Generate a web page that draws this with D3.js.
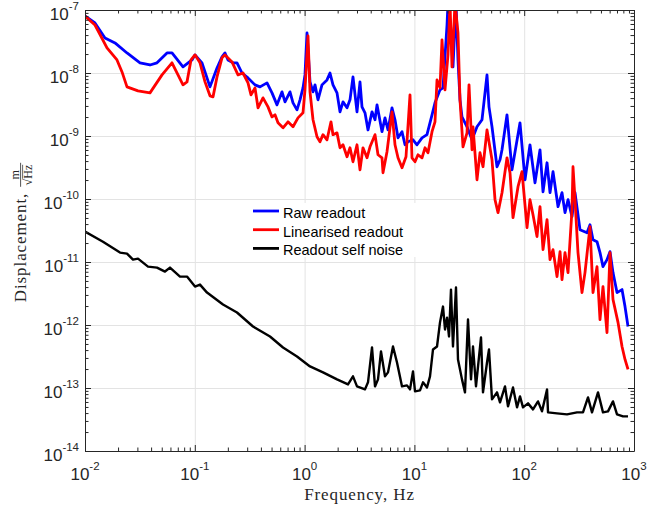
<!DOCTYPE html>
<html>
<head>
<meta charset="utf-8">
<title>Displacement spectra</title>
<script src="https://d3js.org/d3.v7.min.js"></script>
<style>
    body { margin: 0; background: #fff; }
</style>
</head>
<body>
<script>
    // values: frequency in Hz, displacement in m/sqrt(Hz)
    var rawFreq = [0.01, 0.01233, 0.01521, 0.01876, 0.02413, 0.03169, 0.03908, 0.04526, 0.05582, 0.06199,
        0.07807, 0.0943, 0.1004, 0.1163, 0.1375, 0.1593, 0.1769, 0.1884, 0.2006, 0.2228,
        0.2423, 0.2691, 0.3051, 0.3534, 0.3925, 0.4546, 0.5048, 0.5606, 0.6228, 0.6631,
        0.7362, 0.7842, 0.8527, 0.9081, 0.967, 1.008, 1.052, 1.12, 1.193, 1.244,
        1.324, 1.44, 1.6, 1.703, 1.814, 1.973, 2.101, 2.237, 2.434, 2.591,
        2.759, 3.001, 3.195, 3.332, 3.549, 3.78, 4.111, 4.378, 4.565, 5.07,
        5.398, 5.749, 6.252, 6.658, 7.09, 7.713, 8.211, 8.744, 9.71, 10.56,
        11.73, 13.02, 14.47, 15.4, 17.11, 18.22, 19.82, 20.23, 21.54, 22.46,
        23.92, 24.95, 26.02, 27.13, 30.14, 33.47, 37.16, 41.28, 45.84, 47.8,
        50.9, 56.54, 60.21, 62.79, 69.73, 77.42, 91.58, 101.7, 112.9, 125.4,
        139.3, 148.4, 161.4, 171.8, 183.0, 203.3, 221.0, 235.3, 250.6, 272.5,
        290.2, 322.2, 373.3, 397.5, 423.3, 460.3, 490.2, 521.9, 567.7, 604.6,
        643.8, 700.3, 777.7, 828.2, 882.0];
    var rawVal = [8.03e-8, 6.22e-8, 3.6e-8, 3.0e-8, 2.08e-8, 1.45e-8, 1.34e-8, 1.45e-8, 2.08e-8, 2.08e-8,
        1.25e-8, 1.61e-8, 1.94e-8, 1.45e-8, 6.02e-9, 1.2e-8, 1.8e-8, 2.08e-8, 1.61e-8, 1.45e-8,
        1.45e-8, 1.0e-8, 8.36e-9, 6.48e-9, 6.02e-9, 6.97e-9, 4.84e-9, 3.12e-9, 5.02e-9, 3.48e-9,
        5.02e-9, 3.36e-9, 2.6e-9, 3.75e-9, 5.81e-9, 9.33e-9, 4.32e-8, 7.23e-9, 5.02e-9, 6.48e-9,
        3.75e-9, 6.48e-9, 7.77e-9, 1.0e-8, 6.48e-9, 4.84e-9, 2.42e-9, 3.48e-9, 2.8e-9, 3.75e-9,
        8.67e-9, 2.42e-9, 7.23e-9, 2.9e-9, 2.33e-9, 1.25e-9, 2.42e-9, 1.81e-9, 3.12e-9, 1.17e-9,
        1.94e-9, 1.25e-9, 2.8e-9, 1.81e-9, 9.36e-10, 1.17e-9, 7.25e-10, 8.09e-10, 8.71e-10, 7.25e-10,
        9.36e-10, 1.05e-9, 2.17e-9, 3.36e-9, 5.4e-9, 5.81e-9, 5.78e-8, 1.3e-7, 4.82e-8, 1.25e-8,
        1.3e-7, 1.61e-8, 3.75e-9, 2.01e-9, 1.4e-9, 8.71e-10, 1.4e-9, 1.81e-9, 9.33e-9, 2.9e-9,
        1.4e-9, 3.25e-10, 4.2e-10, 6.04e-10, 2.17e-9, 2.91e-10, 1.62e-9, 2.02e-10, 7.25e-10, 1.81e-10,
        6.04e-10, 1.3e-10, 3.76e-10, 1.26e-10, 2.71e-10, 7.55e-11, 1.26e-10, 6.07e-11, 9.75e-11, 5.24e-11,
        1.26e-10, 3.26e-11, 2.92e-11, 3.91e-11, 2.26e-11, 2.1e-11, 1.41e-11, 8.45e-12, 1.09e-11, 1.46e-11,
        6.79e-12, 3.27e-12, 3.65e-12, 1.96e-12, 9.47e-13];

    var linFreq = [0.01, 0.01233, 0.01586, 0.01956, 0.02173, 0.02413, 0.03039, 0.03908, 0.05027, 0.06199,
        0.07031, 0.07807, 0.08492, 0.09234, 0.1004, 0.1115, 0.1239, 0.1375, 0.1465, 0.1593,
        0.1769, 0.1884, 0.2182, 0.2474, 0.2748, 0.3051, 0.325, 0.3534, 0.3764, 0.418,
        0.4642, 0.5048, 0.5377, 0.5725, 0.6359, 0.7061, 0.7842, 0.8707, 0.967, 1.008,
        1.074, 1.12, 1.193, 1.297, 1.381, 1.471, 1.6, 1.739, 1.814, 1.973,
        2.101, 2.237, 2.434, 2.591, 2.759, 3.001, 3.195, 3.403, 3.701, 3.942,
        4.378, 4.662, 5.07, 5.176, 5.629, 6.252, 6.658, 7.09, 7.713, 8.385,
        9.119, 9.508, 10.13, 10.78, 11.73, 12.49, 13.3, 14.47, 15.4, 16.07,
        17.11, 17.84, 19.0, 20.23, 21.1, 22.0, 23.43, 24.95, 26.02, 27.71,
        30.14, 31.43, 33.47, 34.18, 37.16, 39.58, 42.15, 45.84, 50.9, 54.22,
        57.74, 62.79, 69.73, 74.25, 79.07, 87.84, 95.5, 106.1, 112.9, 120.3,
        130.8, 139.3, 148.4, 161.4, 171.8, 183.0, 199.0, 212.0, 221.0, 235.3,
        250.6, 272.5, 278.3, 290.2, 309.0, 336.0, 357.8, 397.5, 423.3, 460.3,
        490.2, 521.9, 567.7, 604.6, 643.8, 715.1, 777.7, 828.2, 882.0];
    var linVal = [8.03e-8, 5.78e-8, 2.5e-8, 1.61e-8, 1.04e-8, 6.02e-9, 5.2e-9, 4.84e-9, 9.33e-9, 1.45e-8,
        9.33e-9, 6.48e-9, 7.23e-9, 1.61e-8, 1.94e-8, 1.45e-8, 7.23e-9, 4.34e-9, 4.18e-9, 8.67e-9,
        1.74e-8, 1.94e-8, 1.5e-8, 9.33e-9, 1.0e-8, 6.97e-9, 4.5e-9, 5.81e-9, 2.8e-9, 4.03e-9,
        2.9e-9, 2.01e-9, 2.17e-9, 1.62e-9, 1.35e-9, 1.68e-9, 1.4e-9, 1.94e-9, 2.33e-9, 5.4e-9,
        3.87e-8, 5.02e-9, 1.81e-9, 9.71e-10, 8.09e-10, 1.05e-9, 8.71e-10, 1.68e-9, 1.05e-9, 1.12e-9,
        6.5e-10, 7.25e-10, 4.68e-10, 6.5e-10, 3.9e-10, 7.25e-10, 2.91e-10, 6.5e-10, 4.51e-10, 6.74e-10,
        1.05e-9, 5.04e-10, 4.51e-10, 2.61e-10, 5.62e-10, 2.42e-9, 7.25e-10, 4.51e-10, 3.13e-10, 4.68e-10,
        4.5e-9, 4.51e-10, 3.9e-10, 5.04e-10, 4.51e-10, 6.5e-10, 5.42e-10, 1.17e-9, 1.68e-9, 7.77e-9,
        5.81e-9, 3.35e-8, 5.4e-9, 1.94e-8, 1.3e-7, 1.25e-8, 1.3e-7, 4.32e-8, 3.75e-9, 6.74e-10,
        1.12e-9, 6.48e-9, 6.04e-10, 1.4e-9, 2.02e-10, 5.42e-10, 3.25e-10, 1.25e-9, 4.2e-10, 9.75e-11,
        6.07e-11, 1.26e-10, 4.51e-10, 2.61e-10, 5.05e-11, 1.57e-10, 2.71e-10, 3.51e-11, 9.75e-11, 5.64e-11,
        2.53e-11, 7.55e-11, 1.57e-11, 4.7e-11, 1.09e-11, 1.57e-11, 5.87e-12, 1.46e-11, 5.26e-12, 1.41e-11,
        6.79e-12, 6.77e-11, 3.25e-10, 9.75e-11, 1.41e-11, 3.27e-12, 6.79e-12, 3.64e-11, 3.27e-12, 8.45e-12,
        1.22e-12, 4.07e-12, 7.6e-13, 1.41e-11, 2.54e-12, 1.1e-12, 4.56e-13, 2.84e-13, 1.97e-13];

    var selfFreq = [0.01, 0.01458, 0.02084, 0.02413, 0.02736, 0.03039, 0.03748, 0.04526, 0.05353, 0.05944,
        0.07332, 0.08492, 0.1004, 0.1115, 0.1292, 0.1806, 0.2423, 0.3389, 0.4841, 0.6359,
        0.8527, 1.12, 1.471, 1.973, 2.485, 2.759, 3.001, 3.549, 3.78, 4.111,
        4.378, 4.662, 4.964, 5.398, 5.749, 6.384, 6.943, 7.713, 8.562, 9.119,
        9.71, 10.13, 11.25, 11.98, 13.02, 13.87, 14.77, 16.07, 17.11, 18.22,
        19.0, 19.82, 20.66, 21.54, 22.46, 23.92, 24.95, 27.13, 28.89, 30.77,
        32.78, 34.18, 36.39, 40.42, 42.15, 45.84, 47.8, 50.9, 56.54, 60.21,
        66.87, 71.2, 79.07, 86.02, 91.58, 97.52, 108.3, 120.3, 133.6, 145.3,
        161.4, 164.8, 199.0, 245.4, 302.6, 343.1, 381.2, 414.5, 470.1, 521.9,
        579.7, 643.8, 700.3, 794.1, 882.0];
    var selfVal = [3.03e-11, 2.1e-11, 1.41e-11, 1.36e-11, 1.09e-11, 1.13e-11, 8.45e-12, 8.15e-12, 7.05e-12, 8.15e-12,
        5.87e-12, 5.87e-12, 4.07e-12, 4.38e-12, 3.27e-12, 2.11e-12, 1.58e-12, 9.47e-13, 6.57e-13, 4.4e-13,
        3.17e-13, 2.2e-13, 1.77e-13, 1.37e-13, 1.14e-13, 1.53e-13, 1.06e-13, 9.5e-14, 1.23e-13, 4.4e-13,
        1.06e-13, 1.37e-13, 3.8e-13, 1.53e-13, 1.77e-13, 4.56e-13, 2.54e-13, 1.06e-13, 1.1e-13, 9.5e-14,
        1.83e-13, 8.83e-14, 9.16e-14, 1.23e-13, 1.02e-13, 1.53e-13, 4.09e-13, 4.56e-13, 1.1e-12, 1.96e-12,
        8.48e-13, 1.31e-12, 6.57e-13, 3.65e-12, 4.56e-13, 3.93e-12, 2.84e-13, 1.37e-13, 8.52e-14, 1.22e-12,
        1.37e-13, 4.56e-13, 1.06e-13, 6.34e-13, 8.52e-14, 2.54e-13, 4.09e-13, 6.6e-14, 8.52e-14, 5.91e-14,
        1.06e-13, 5.11e-14, 1.02e-13, 4.93e-14, 7.36e-14, 4.93e-14, 5.7e-14, 4.58e-14, 6.13e-14, 4.26e-14,
        9.5e-14, 4.1e-14, 3.96e-14, 3.82e-14, 4.1e-14, 4.1e-14, 7.1e-14, 4.1e-14, 8.52e-14, 4.1e-14,
        4.26e-14, 6.13e-14, 3.82e-14, 3.55e-14, 3.55e-14];

    var seriesNames = ["Raw readout", "Linearised readout", "Readout self noise"];
    var seriesColors = ["#0000ff", "#ff0000", "#000000"];

    var xTicks = [1e-2, 1e-1, 1e0, 1e1, 1e2, 1e3];
    var xTickExp = ["-2", "-1", "0", "1", "2", "3"];
    var yTicks = [1e-14, 1e-13, 1e-12, 1e-11, 1e-10, 1e-9, 1e-8, 1e-7];
    var yTickExp = ["-14", "-13", "-12", "-11", "-10", "-9", "-8", "-7"];

    var width = 647, height = 509;
    var plotLeft = 85, plotTop = 10, plotRight = 634, plotBottom = 451;
    var axisColor = "#262626";
    var sans = "'Liberation Sans', Arial, Helvetica, sans-serif";
    var serif = "'Liberation Serif', 'Times New Roman', serif";

    var svg = d3.select("body").append("svg")
        .attr("width", width)
        .attr("height", height)
        .style("background-color", "#fff");

    var x = d3.scaleLog().domain([1e-2, 1e3]).range([plotLeft, plotRight]);
    var y = d3.scaleLog().domain([1e-14, 1e-7]).range([plotBottom, plotTop]);

    // 2..9 times each power of ten inside the domain
    function minorTicks(ticks) {
        var out = [];
        for (var i = 0; i < ticks.length - 1; i++) {
            for (var m = 2; m < 10; m++) out.push(m * ticks[i]);
        }
        return out;
    }

    // grid on the decades
    svg.append("g")
        .attr("transform", `translate(0,${plotBottom})`)
        .call(d3.axisBottom(x).tickValues(xTicks).tickSize(-(plotBottom - plotTop)).tickFormat(""))
        .call(g => g.select(".domain").remove())
        .selectAll("line").attr("stroke", "#e3e3e3");
    svg.append("g")
        .attr("transform", `translate(${plotLeft},0)`)
        .call(d3.axisLeft(y).tickValues(yTicks).tickSize(-(plotRight - plotLeft)).tickFormat(""))
        .call(g => g.select(".domain").remove())
        .selectAll("line").attr("stroke", "#e3e3e3");

    // curves
    svg.append("clipPath").attr("id", "plotClip")
        .append("rect")
        .attr("x", plotLeft).attr("y", plotTop)
        .attr("width", plotRight - plotLeft).attr("height", plotBottom - plotTop);

    var line = d3.line()
        .x(d => x(d[0]))
        .y(d => y(d[1]));

    var series = [
        d3.zip(rawFreq, rawVal),
        d3.zip(linFreq, linVal),
        d3.zip(selfFreq, selfVal)
    ];
    var widths = [2.8, 2.8, 2.4];

    svg.append("g")
        .attr("clip-path", "url(#plotClip)")
        .selectAll("path")
        .data(series)
        .join("path")
        .attr("d", line)
        .attr("fill", "none")
        .attr("stroke", (d, i) => seriesColors[i])
        .attr("stroke-width", (d, i) => widths[i])
        .attr("stroke-linejoin", "round");

    // ticks all round the box, pointing inwards
    function drawAxis(axis, transform) {
        var g = svg.append("g").attr("transform", transform).call(axis);
        g.selectAll("path,line").attr("stroke", axisColor);
        return g;
    }
    var boxAxes = [
        [d3.axisBottom(x), `translate(0,${plotBottom})`, xTicks],
        [d3.axisTop(x), `translate(0,${plotTop})`, xTicks],
        [d3.axisLeft(y), `translate(${plotLeft},0)`, yTicks],
        [d3.axisRight(y), `translate(${plotRight},0)`, yTicks]
    ];
    boxAxes.forEach(function (a) {
        drawAxis(a[0].tickValues(minorTicks(a[2])).tickSize(-3.5).tickSizeOuter(0).tickFormat(""), a[1])
            .select(".domain").remove();
        drawAxis(a[0].tickValues(a[2]).tickSize(-6).tickSizeOuter(0).tickFormat(""), a[1]);
    });

    // tick labels as 10 with a raised exponent
    var xLabels = svg.append("g").selectAll("text")
        .data(xTicks)
        .join("text")
        .attr("x", d => x(d))
        .attr("y", plotBottom + 29)
        .attr("text-anchor", "middle")
        .style("font-family", sans)
        .style("font-size", "17px")
        .attr("fill", axisColor);
    xLabels.append("tspan").text("10");
    xLabels.append("tspan").attr("dy", -10).style("font-size", "11.5px").text((d, i) => xTickExp[i]);

    var yLabels = svg.append("g").selectAll("text")
        .data(yTicks)
        .join("text")
        .attr("x", plotLeft - 6)
        .attr("y", d => y(d) + 9.5)
        .attr("text-anchor", "end")
        .style("font-family", sans)
        .style("font-size", "17px")
        .attr("fill", axisColor);
    yLabels.append("tspan").text("10");
    yLabels.append("tspan").attr("dy", -10).style("font-size", "11.5px").text((d, i) => yTickExp[i]);

    // axis titles
    svg.append("text")
        .attr("x", (plotLeft + plotRight) / 2)
        .attr("y", 500)
        .attr("text-anchor", "middle")
        .style("font-family", serif)
        .style("font-size", "17px")
        .style("letter-spacing", "0.9px")
        .attr("fill", axisColor)
        .text("Frequency, Hz");

    var yTitle = svg.append("g").attr("transform", "rotate(-90)");
    var word = yTitle.append("text")
        .attr("y", 25.5)
        .style("font-family", serif)
        .style("font-size", "17px")
        .style("letter-spacing", "0.9px")
        .attr("fill", axisColor)
        .text("Displacement,");
    var wordLen = word.node().getComputedTextLength();
    var fracW = 24, gap = 6;
    var start = (plotTop + plotBottom) / 2 + 2 + (wordLen + gap + fracW) / 2;
    word.attr("x", -start);
    var fracMid = -(start - wordLen - gap - fracW / 2);
    yTitle.append("text")
        .attr("x", fracMid).attr("y", 18.5)
        .attr("text-anchor", "middle")
        .style("font-family", serif).style("font-size", "12px")
        .attr("fill", axisColor)
        .text("m");
    yTitle.append("line")
        .attr("x1", fracMid - fracW / 2).attr("x2", fracMid + fracW / 2)
        .attr("y1", 20.6).attr("y2", 20.6)
        .attr("stroke", axisColor).attr("stroke-width", 0.8);
    var rootX = fracMid - 4;
    yTitle.append("text")
        .attr("x", rootX).attr("y", 31.5)
        .attr("text-anchor", "end")
        .style("font-family", serif).style("font-size", "12px")
        .attr("fill", axisColor)
        .text("\u221A");
    var hz = yTitle.append("text")
        .attr("x", rootX).attr("y", 31.5)
        .style("font-family", serif).style("font-size", "12px")
        .attr("fill", axisColor)
        .text("Hz");
    yTitle.append("line")
        .attr("x1", rootX).attr("x2", rootX + hz.node().getComputedTextLength())
        .attr("y1", 22.6).attr("y2", 22.6)
        .attr("stroke", axisColor).attr("stroke-width", 0.7);

    // legend, white box without border
    var legend = svg.append("g");
    legend.append("rect")
        .attr("x", 249).attr("y", 203)
        .attr("width", 172).attr("height", 54)
        .attr("fill", "#fff");
    var legendY = d3.scalePoint().domain(seriesNames).range([211, 248.4]);
    var item = legend.selectAll("g.item")
        .data(seriesNames)
        .join("g")
        .attr("class", "item")
        .attr("transform", d => `translate(0,${legendY(d)})`);
    item.append("line")
        .attr("x1", 253).attr("x2", 279)
        .attr("stroke", (d, i) => seriesColors[i])
        .attr("stroke-width", 2.8);
    item.append("text")
        .attr("x", 283).attr("y", 6.8)
        .style("font-family", sans)
        .style("font-size", "14.5px")
        .attr("fill", "#000")
        .text(d => d);
</script>
</body>
</html>
